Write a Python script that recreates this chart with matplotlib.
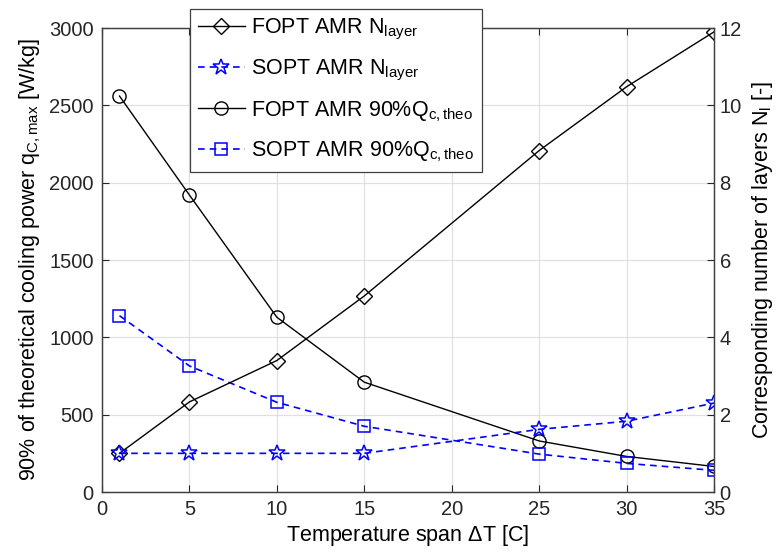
import matplotlib
matplotlib.use("Agg")
import matplotlib.pyplot as plt

x = [1, 5, 10, 15, 25, 30, 35]
fopt_nlayer = [1.0, 2.33, 3.4, 5.07, 8.83, 10.48, 11.9]
sopt_nlayer = [1.0, 1.0, 1.0, 1.0, 1.62, 1.83, 2.3]
fopt_q = [2560, 1920, 1130, 710, 330, 230, 165]
sopt_q = [1140, 815, 580, 425, 245, 185, 140]

xticks = [0, 5, 10, 15, 20, 25, 30, 35]
yticks_left = [0, 500, 1000, 1500, 2000, 2500, 3000]
yticks_right = [0, 2, 4, 6, 8, 10, 12]

plt.rcParams['font.family'] = ['Liberation Sans', 'DejaVu Sans']
plt.rcParams['font.size'] = 14
plt.rcParams['mathtext.fontset'] = 'custom'
plt.rcParams['mathtext.rm'] = 'Liberation Sans'
plt.rcParams['mathtext.it'] = 'Liberation Sans'

fig = plt.figure(figsize=(7.81, 5.55), dpi=100)
ax = fig.add_axes([102/781, 1-492/555, (714-102)/781, (492-28)/555])
ax2 = ax.twinx()

blue = '#0000ff'
l3, = ax.plot(x, fopt_q, '-', color='k', lw=1, marker='o', ms=9.5, mfc='none', mec='k', mew=1)
l4, = ax.plot(x, sopt_q, '--', color=blue, lw=1.2, marker='s', ms=8, mfc='none', mec=blue, mew=1.1,
              dashes=(4, 3))
l1, = ax2.plot(x, fopt_nlayer, '-', color='k', lw=1, marker='D', ms=8, mfc='none', mec='k', mew=1)
l2, = ax2.plot(x, sopt_nlayer, '--', color=blue, lw=1.2, marker='*', ms=12, mfc='none', mec=blue, mew=1.1,
               dashes=(4, 3))

ax.set_xlim(0, 35)
ax.set_ylim(0, 3000)
ax2.set_ylim(0, 12)
ax.set_xticks(xticks)
ax.set_yticks(yticks_left)
ax2.set_yticks(yticks_right)
ax.grid(True, color='#e0e0e0', lw=0.9)
ax.set_axisbelow(True)
for a in (ax, ax2):
    a.tick_params(direction='in', length=5, width=0.8, labelsize=14.5, colors='#262626')
    for s in a.spines.values():
        s.set_color('#404040')
        s.set_linewidth(0.9)
ax.tick_params(top=True, pad=6)
ax2.tick_params(pad=4)
ax.set_xlabel(r'Temperature span $\Delta$T [C]', fontsize=15.5, labelpad=3)
ax.set_ylabel(r'90% of theoretical cooling power q$_{\mathrm{C,max}}$ [W/kg]', fontsize=15.5, labelpad=4)
ax2.set_ylabel(r'Corresponding number of layers N$_{\mathrm{l}}$ [-]', fontsize=15.5, labelpad=6)

leg = fig.legend([l1, l2, l3, l4],
                 [r'FOPT AMR N$_{\mathrm{layer}}$', r'SOPT AMR N$_{\mathrm{layer}}$',
                  r'FOPT AMR 90%Q$_{\mathrm{c,theo}}$', r'SOPT AMR 90%Q$_{\mathrm{c,theo}}$'],
                 loc='upper left', bbox_to_anchor=(190/781, 1-9/555), fontsize=15.5,
                 frameon=True, fancybox=False, edgecolor='#404040', framealpha=1,
                 handlelength=2.2, labelspacing=0.75, borderpad=0.35, handletextpad=0.3,
                 borderaxespad=0)
leg.get_frame().set_linewidth(0.9)

fig.savefig('out.png', dpi=100)
